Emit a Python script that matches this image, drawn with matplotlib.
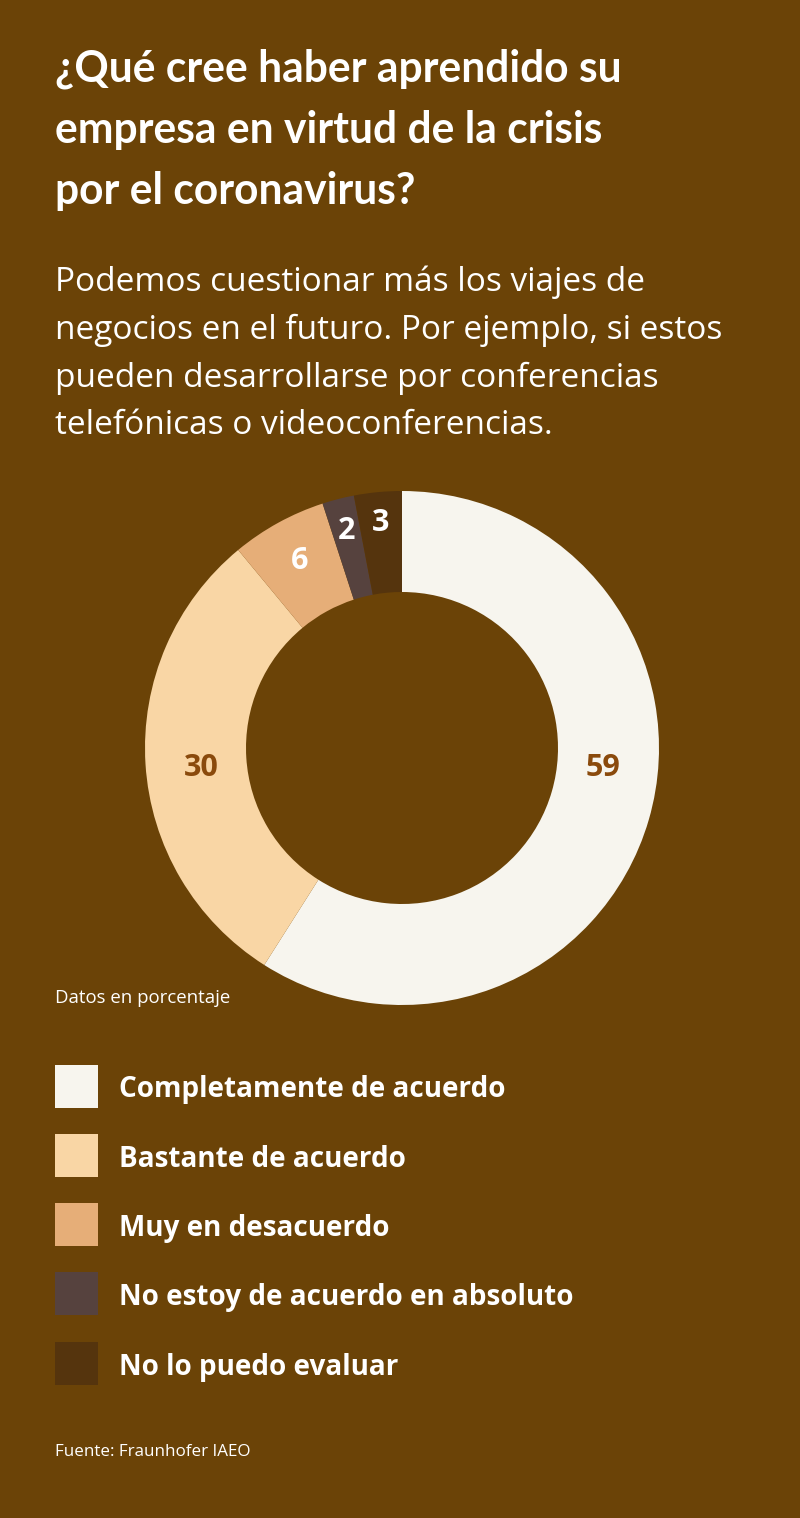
import matplotlib
matplotlib.use("Agg")
import matplotlib.pyplot as plt
import numpy as np
from matplotlib.patches import Rectangle

categories = ["Completamente de acuerdo", "Bastante de acuerdo", "Muy en desacuerdo",
              "No estoy de acuerdo en absoluto", "No lo puedo evaluar"]
values = [59, 30, 6, 2, 3]
colors = ["#F7F5EE", "#F9D6A5", "#E6AE78", "#56423E", "#55340D"]
label_colors = ["#8A4A0C", "#8A4A0C", "white", "white", "white"]

title = "¿Qué cree haber aprendido su\nempresa en virtud de la crisis\npor el coronavirus?"
subtitle_lines = ["Podemos cuestionar más los viajes de",
                  "negocios en el futuro. Por ejemplo, si estos",
                  "pueden desarrollarse por conferencias",
                  "telefónicas o videoconferencias."]
note = "Datos en porcentaje"
source = "Fuente: Fraunhofer IAEO"

BG = "#6B4307"
W, H = 800, 1518
fig = plt.figure(figsize=(W / 100, H / 100), dpi=100, facecolor=BG)
renderer = fig.canvas.get_renderer()

def fy(py):
    return 1 - py / H

def fx(px):
    return px / W

def fit(t, target_px):
    bb = t.get_window_extent(renderer)
    t.set_fontsize(t.get_fontsize() * target_px / bb.width)

# Title
title_lines = title.split("\n")
tt = []
for i, line in enumerate(title_lines):
    t = fig.text(fx(55), fy(69 + i * 61), line, family=["Lato", "DejaVu Sans"],
                 weight="bold", fontsize=28, color="white", va="center", ha="left")
    tt.append(t)
fit(tt[0], 567)
for t in tt[1:]:
    t.set_fontsize(tt[0].get_fontsize())

st = []
for i, line in enumerate(subtitle_lines):
    t = fig.text(fx(55), fy(282 + i * 48), line, family=["Open Sans", "DejaVu Sans"],
                 fontsize=21, color="white", va="center", ha="left")
    st.append(t)
fit(st[0], 590)
for t in st[1:]:
    t.set_fontsize(st[0].get_fontsize())

# Donut
cx, cy, R = 402, 748, 257
ax = fig.add_axes([fx(cx - R), fy(cy + R), 2 * R / W, 2 * R / H])
ax.set_facecolor("none")
wedges, _ = ax.pie(values, colors=colors, startangle=90, counterclock=False,
                   radius=1.0, wedgeprops=dict(width=1 - 156 / 257, linewidth=0))
ax.set_xlim(-1, 1)
ax.set_ylim(-1, 1)
ax.set_aspect("equal")
ax.axis("off")

label_r = [None, None, 0.83, 0.87, 0.88]
for i, (w, v) in enumerate(zip(wedges, values)):
    ang = np.deg2rad((w.theta1 + w.theta2) / 2)
    if label_r[i] is None:
        x = 0.78 * np.sign(np.cos(ang))
        y = -0.078
    else:
        x = label_r[i] * np.cos(ang)
        y = label_r[i] * np.sin(ang)
    ax.text(x, y, str(v), ha="center", va="center", fontsize=22, weight="bold",
            family=["Open Sans", "DejaVu Sans"], color=label_colors[i])

tn = fig.text(fx(55), fy(998), note, family=["Open Sans", "DejaVu Sans"], fontsize=11.5,
              color="white", va="center", ha="left")
fit(tn, 176)

# Legend
lt = []
for i, (cat, col) in enumerate(zip(categories, colors)):
    yc = 1086 + i * 69.3
    fig.patches.append(Rectangle((fx(55), fy(yc + 21.5)), 43 / W, 43 / H, transform=fig.transFigure,
                                 facecolor=col, edgecolor="none"))
    t = fig.text(fx(119), fy(yc + 4), cat, family=["Open Sans", "DejaVu Sans"], weight="bold",
                 fontsize=19, color="white", va="center", ha="left")
    lt.append(t)
fit(lt[0], 385)
for t in lt[1:]:
    t.set_fontsize(lt[0].get_fontsize())

ts = fig.text(fx(55), fy(1452), source, family=["Open Sans", "DejaVu Sans"], fontsize=11,
              color="white", va="center", ha="left")
fit(ts, 195)

fig.savefig("out.png", dpi=100, facecolor=BG)
